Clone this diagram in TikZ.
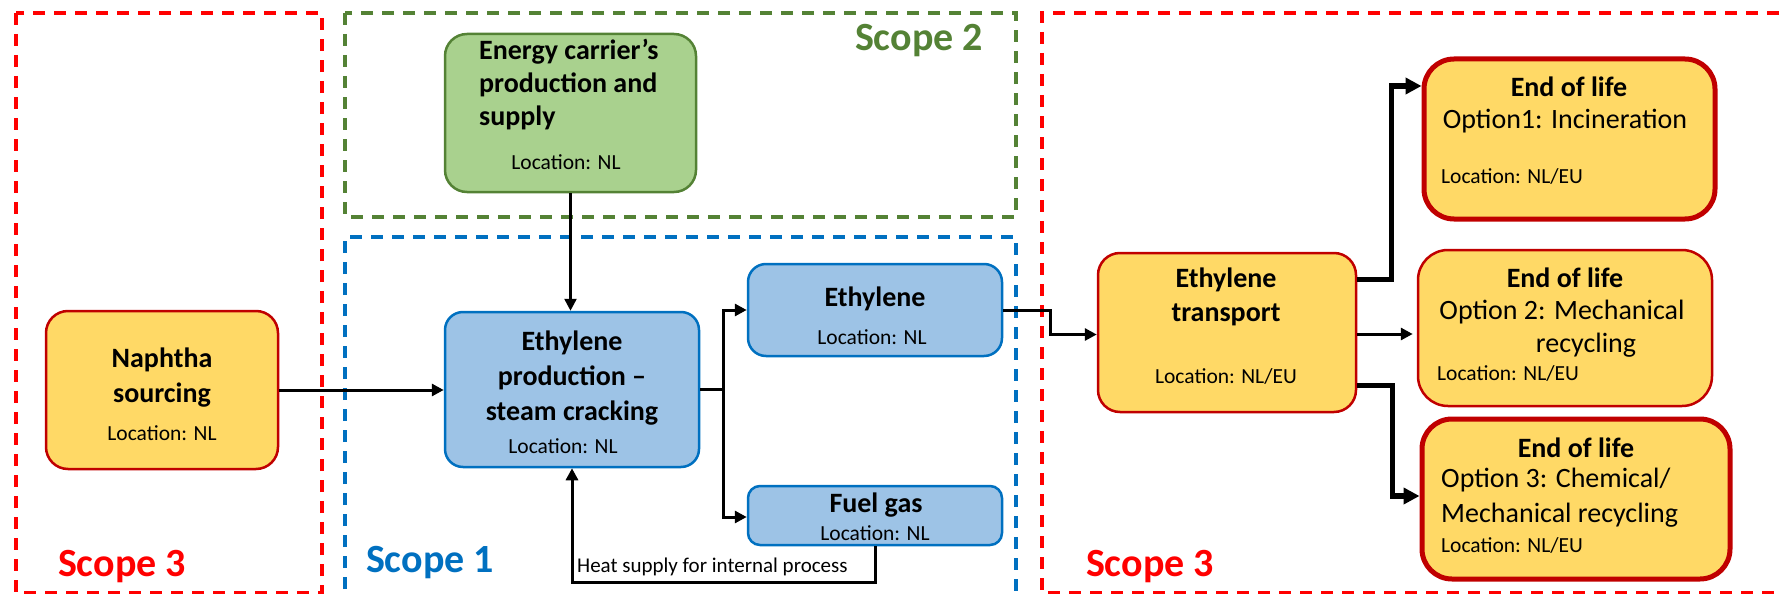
\documentclass[tikz,border=0pt]{standalone}
\usepackage{fontspec}
\setmainfont{Carlito}
\usetikzlibrary{arrows.meta}

\definecolor{boxyellow}{HTML}{FFD966}
\definecolor{boxred}{HTML}{C00000}
\definecolor{boxgreen}{HTML}{A9D18E}
\definecolor{darkgreen}{HTML}{548235}
\definecolor{boxblue}{HTML}{9DC3E6}
\definecolor{darkblue}{HTML}{0070C0}

\tikzset{
  stage/.style={draw, line width=2.5pt, rounded corners=22pt, inner sep=0pt},
  yellowstage/.style={stage, fill=boxyellow, draw=boxred},
  greenstage/.style={stage, fill=boxgreen, draw=darkgreen},
  bluestage/.style={stage, fill=boxblue, draw=darkblue, rounded corners=18pt},
  eolstage/.style={yellowstage, rounded corners=30pt, minimum height=160pt},
  title/.style={font=\bfseries\fontsize{28}{35}\selectfont, align=center, inner sep=0pt},
  option/.style={font=\fontsize{28}{35}\selectfont, inner sep=0pt},
  loc/.style={font=\fontsize{21.5}{26}\selectfont, inner sep=0pt},
  scopebox/.style={dash pattern=on 12pt off 9pt, line width=3.3pt},
  scopelabel/.style={font=\bfseries\fontsize{40}{48}\selectfont, inner sep=0pt, anchor=base},
  flow/.style={line width=3pt, -{Triangle[length=12pt,width=12pt]}},
  bigflow/.style={line width=5.5pt, -{Triangle[length=16pt,width=16pt]}},
}

\begin{document}
\begin{tikzpicture}[x=1pt,y=-1pt]
  \useasboundingbox (0,0) rectangle (1781,594);
  \clip (0,0) rectangle (1781,594);

  % scope frames
  \draw[scopebox, color=red] (16,13) rectangle (322,593);
  \draw[scopebox, color=darkgreen] (345,13) rectangle (1016,217);
  \draw[scopebox, color=darkblue] (345,610) -- (345,237) -- (1016,237) -- (1016,610);
  \draw[scopebox, color=red] (1800,13) -- (1042,13) -- (1042,593) -- (1800,593);

  \node[scopelabel, text=red] (scopeleft) at (122,576) {Scope 3};
  \node[scopelabel, text=darkblue] (scopeone) at (430,572) {Scope 1};
  \node[scopelabel, text=darkgreen] (scopetwo) at (919,51) {Scope 2};
  \node[scopelabel, text=red] (scoperight) at (1150,576) {Scope 3};

  % process stages
  \node[yellowstage, minimum width=232pt, minimum height=158pt] (naphtha) at (162,390) {};
  \node[greenstage, minimum width=251pt, minimum height=158pt] (energy) at (570.5,113) {};
  \node[bluestage, minimum width=254pt, minimum height=155pt] (prod) at (572,389.5) {};
  \node[bluestage, minimum width=254pt, minimum height=92pt] (ethylene) at (875,310) {};
  \node[bluestage, minimum width=254pt, minimum height=59pt, rounded corners=12pt] (fuelgas) at (875,515.5) {};
  \node[yellowstage, minimum width=258pt, minimum height=159pt] (transport) at (1227,332.5) {};
  \node[eolstage, line width=5pt, minimum width=291pt] (eol1) at (1569.5,139) {};
  \node[eolstage, minimum width=294pt, minimum height=156pt] (eol2) at (1565,328) {};
  \node[eolstage, line width=5pt, minimum width=308pt] (eol3) at (1576,499) {};

  % texts
  \node[title] (naphthatxt) at (162,378) {Naphtha\\sourcing};
  \node[loc] (naphthaloc) at (162,433) {Location: NL};
  \node[title, align=left, anchor=west, font=\bfseries\fontsize{28}{33}\selectfont] (energytxt) at (479,85)
    {Energy carrier’s\\production and\\supply};
  \node[loc] (energyloc) at (566,162) {Location: NL};
  \node[title] (prodtxt) at (572,378) {Ethylene\\production –\\steam cracking};
  \node[loc] (prodloc) at (563,446) {Location: NL};
  \node[title] (ethtxt) at (875,299) {Ethylene};
  \node[loc] (ethloc) at (872,337) {Location: NL};
  \node[title] (fueltxt) at (876,505) {Fuel gas};
  \node[loc] (fuelloc) at (875,533) {Location: NL};
  \node[title, font=\bfseries\fontsize{28}{34}\selectfont] (transtxt) at (1226,297) {Ethylene\\transport};
  \node[loc] (transloc) at (1226,376) {Location: NL/EU};

  \node[title] (eol1txt) at (1569,87) {End of life};
  \node[option] (eol1opt) at (1565,121) {Option1: Incineration};
  \node[loc, anchor=west] (eol1loc) at (1441,176) {Location: NL/EU};
  \node[title] (eol2txt) at (1565,278) {End of life};
  \node[option] (eol2opt) at (1562,312) {Option 2: Mechanical};
  \node[option] (eol2rec) at (1586,345) {recycling};
  \node[loc, anchor=west] (eol2loc) at (1437,373) {Location: NL/EU};
  \node[title] (eol3txt) at (1576,448) {End of life};
  \node[option, align=left, anchor=west] (eol3opt) at (1441,498) {Option 3: Chemical/\\Mechanical recycling};
  \node[loc, anchor=west] (eol3loc) at (1441,545) {Location: NL/EU};

  % flows
  \draw[flow] (naphtha.east) -- (naphtha.east -| prod.west);
  \draw[flow, line width=2.5pt] (energy.south) -- (energy.south |- prod.north);
  \draw[flow] (prod.east) -- ++(23,0) |- (ethylene.west);
  \draw[flow] (prod.east) -- ++(23,0) |- ([yshift=-1.5pt]fuelgas.west);
  \draw[flow] (fuelgas.south) -- ++(0,36) -| (prod.south);
  \node[font=\fontsize{21}{25}\selectfont, anchor=west, inner sep=0pt] (heattxt) at (577,567)
    {Heat supply for internal process};
  \draw[flow] (ethylene.east) -- ++(47,0) |- ([yshift=-2pt]transport.west);
  \draw[bigflow] ([yshift=53pt]transport.east) -- ++(34,0) |- ([yshift=53pt]eol1.west);
  \draw[flow, shorten >=4pt] ([yshift=-1.5pt]transport.east) -- ([yshift=-1.5pt]transport.east -| eol2.west);
  \draw[bigflow] ([yshift=-53pt]transport.east) -- ++(35,0) |- ([yshift=3pt]eol3.west);
\end{tikzpicture}
\end{document}
